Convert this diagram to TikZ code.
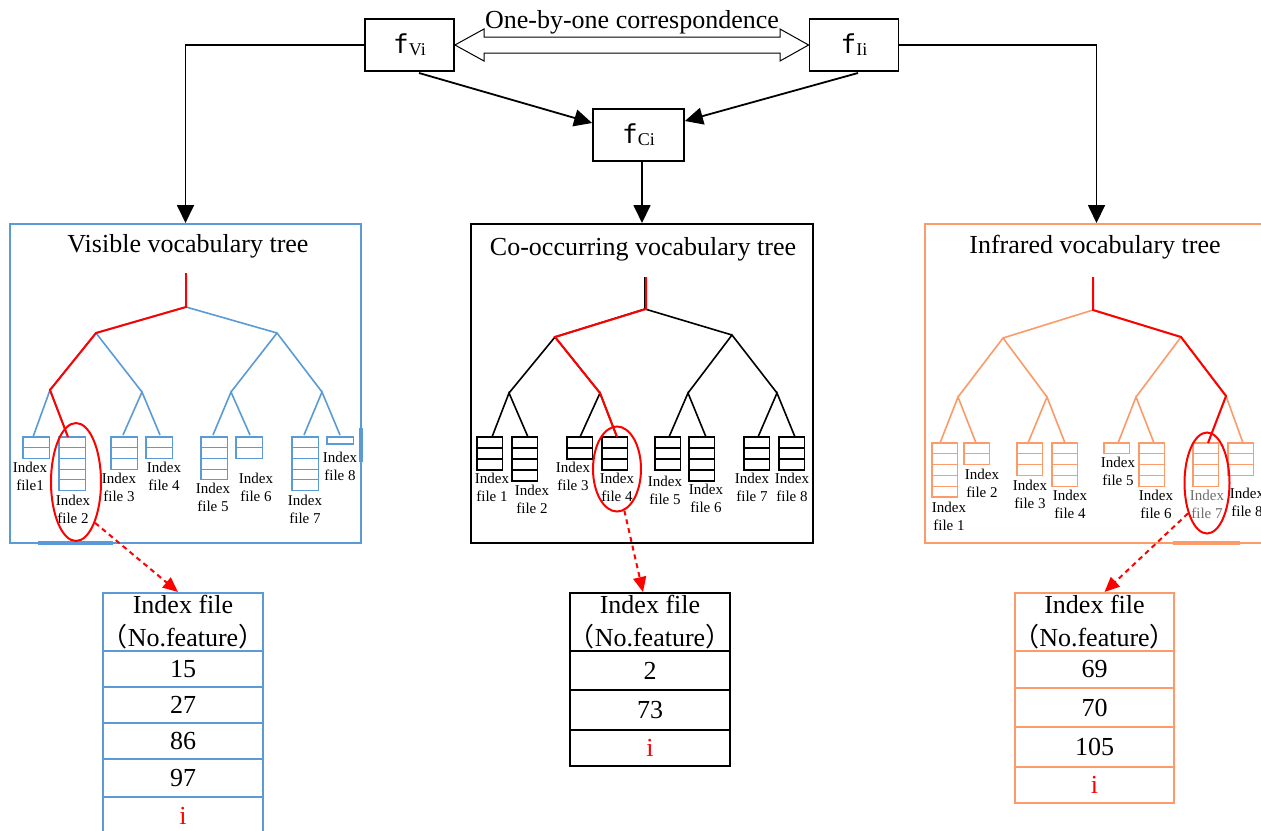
\documentclass[tikz,border=0pt]{standalone}
\usepackage{fontspec}
\setmainfont{Liberation Serif}
\newfontfamily\cjkfont{Noto Sans CJK SC}
\newfontfamily\monof{DejaVu Sans Mono}
\usetikzlibrary{arrows.meta,shapes.geometric}
\definecolor{vblue}{RGB}{91,155,213}
\definecolor{iorange}{RGB}{250,155,105}
\definecolor{greytxt}{RGB}{110,110,110}
\newcommand\leafstack[6]{\foreach \k in {1,...,#4}{\draw[#1,line width=1.2pt] (#2,{#3+(\k-1)*#6}) rectangle ++(#5,#6);}}
\newcommand\fsym[2]{{\monof\fontsize{26}{30}\selectfont #1}\raisebox{-2pt}{\fontsize{18}{20}\selectfont #2}}
\newcommand\headtext{Index file\\\makebox[140pt][c]{{\cjkfont （}No.feature{\cjkfont ）}}}
\tikzset{
  fbox/.style={draw,line width=1.8pt,minimum width=89pt,minimum height=52pt,inner sep=0pt},
  big/.style={font=\fontsize{26}{30}\selectfont,inner sep=0pt},
  lbl/.style={font=\fontsize{15}{18}\selectfont,align=center,inner sep=0pt},
  arr/.style={-{Triangle[length=18pt,width=17pt]},line width=1.8pt},
  darr/.style={red,line width=2pt,dash pattern=on 5pt off 4pt,-{Triangle[length=15pt,width=13pt]}},
  treebox/.style={draw=#1,line width=2pt,minimum height=319pt,inner sep=0pt},
  tcell/.style={draw=#1,line width=2pt,minimum width=160pt,inner sep=0pt,font=\fontsize{26}{30}\selectfont},
  thead/.style={tcell=#1,minimum height=58pt,align=center,font=\fontsize{26}{33}\selectfont},
  redell/.style={draw=red,line width=2pt,ellipse,inner sep=0pt},
  tline/.style={line width=1.6pt},
  rline/.style={red,line width=2pt}
}
\begin{document}
\begin{tikzpicture}[x=1pt,y=-1pt]
\useasboundingbox (0,0) rectangle (1261,830);
\clip (0,0) rectangle (1261,830);
\fill[white] (0,0) rectangle (1261,830);

% ---------- top ----------
\node[fbox] (fV) at (409.5,45) {\fsym{f}{Vi}};
\node[fbox] (fI) at (854,45) {\fsym{f}{Ii}};
\node[fbox,minimum width=91pt] (fC) at (638.5,135) {\fsym{f}{Ci}};
\draw[line width=1pt,fill=white] (fV.east) -- (484,29) -- (484,37) -- (780,37) -- (780,29) -- (fI.west)
  -- (780,61) -- (780,53) -- (484,53) -- (484,61) -- cycle;
\node[big,anchor=base] (corr) at (632,28) {One-by-one correspondence};

% ---------- tree boxes ----------
\node[treebox=vblue,minimum width=351pt] (vbox) at (185.5,383.5) {};
\node[treebox=black,minimum width=342pt] (cbox) at (642,383.5) {};
\node[treebox=iorange,minimum width=343pt] (ibox) at (1096.5,383.5) {};
\draw[vblue,line width=4pt] (38,543) -- (113,543);
\draw[vblue,line width=3.5pt] (361,428) -- (361,462);
\draw[iorange,line width=4pt] (1173,543) -- (1240,543);

\node[big,anchor=base] (vtitle) at (188,252) {Visible vocabulary tree};
\node[big,anchor=base] (ctitle) at (643,255) {Co-occurring vocabulary tree};
\node[big,anchor=base] (ititle) at (1095,253) {Infrared vocabulary tree};

% ---------- main arrows ----------
\draw[arr] (fV.west) -| (vbox.north);
\draw[arr] (fI.east) -| (ibox.north);
\draw[arr] (fC.south -| cbox.north) -- (cbox.north);
\coordinate (dv) at (419,73);
\coordinate (di) at (858,73);
\draw[arr] (dv) -- ([yshift=12pt]fC.west);
\draw[arr] (di) -- ([yshift=14pt]fC.east);

% ---------- visible tree ----------
\begin{scope}[vblue]
\coordinate (vR0) at (186,273); \coordinate (vR) at (186,307);
\coordinate (vA) at (96,333); \coordinate (vB) at (277,333);
\coordinate (vAA) at (50,390); \coordinate (vAB) at (142,392);
\coordinate (vBA) at (231,392); \coordinate (vBB) at (322,392);
\draw[tline] (vR0) -- (vR) (vA) -- (vR) -- (vB)
  (vAA) -- (vA) -- (vAB) (vBA) -- (vB) -- (vBB)
  (33,437) -- (vAA) -- (68,437) (123,435) -- (vAB) -- (160,435)
  (213,435) -- (vBA) -- (250,435) (304,435) -- (vBB) -- (340,435);
\leafstack{vblue}{23}{437}{2}{26.5}{10.7}
\leafstack{vblue}{59}{437}{5}{26.5}{10.7}
\leafstack{vblue}{111}{437}{3}{26.5}{10.7}
\leafstack{vblue}{146}{437}{2}{26.5}{10.7}
\leafstack{vblue}{201}{437}{4}{26.5}{10.7}
\leafstack{vblue}{236}{437}{2}{26.5}{10.7}
\leafstack{vblue}{292}{437}{5}{26.5}{10.7}
\leafstack{vblue}{327}{437}{1}{26.5}{7}
\end{scope}
\draw[rline] (vR0) -- (vR) -- (vA) -- (vAA) -- (68,437);
\node[lbl] (vl1) at (30,476) {Index\\file1};
\node[lbl] (vl2) at (73,509) {Index\\file 2};
\node[lbl] (vl3) at (119,487) {Index\\file 3};
\node[lbl] (vl4) at (164,476) {Index\\file 4};
\node[lbl] (vl5) at (213,497) {Index\\file 5};
\node[lbl] (vl6) at (256,487) {Index\\file 6};
\node[lbl] (vl7) at (305,509) {Index\\file 7};
\node[lbl] (vl8) at (340,466) {Index\\file 8};

% ---------- co-occurring tree ----------
\coordinate (cR0) at (645,277); \coordinate (cR) at (645,309);
\coordinate (cA) at (555,337); \coordinate (cB) at (732,335);
\coordinate (cAA) at (509,393); \coordinate (cAB) at (600,393);
\coordinate (cBA) at (688,393); \coordinate (cBB) at (777,393);
\draw[tline] (cR0) -- (cR) (cA) -- (cR) -- (cB)
  (cAA) -- (cA) -- (cAB) (cBA) -- (cB) -- (cBB)
  (492,437) -- (cAA) -- (528,437) (580,437) -- (cAB) -- (617,437)
  (669,437) -- (cBA) -- (706,437) (758,437) -- (cBB) -- (795,437);
\leafstack{black}{477}{437}{3}{25.5}{11}
\leafstack{black}{512}{437}{4}{25.5}{11}
\leafstack{black}{567}{437}{2}{25.5}{11}
\leafstack{black}{602}{437}{3}{25.5}{11}
\leafstack{black}{655}{437}{3}{25.5}{11}
\leafstack{black}{689}{437}{4}{25.5}{11}
\leafstack{black}{744}{437}{3}{25.5}{11}
\leafstack{black}{779}{437}{3}{25.5}{11}
\draw[rline] ([xshift=1pt]cR0) -- ([xshift=1pt]cR) -- (cA) -- (cAB) -- (617,437);
\node[lbl] (cl1) at (492,487) {Index\\file 1};
\node[lbl] (cl2) at (532,499) {Index\\file 2};
\node[lbl] (cl3) at (573,476) {Index\\file 3};
\node[lbl] (cl4) at (617,487) {Index\\file 4};
\node[lbl] (cl5) at (665,490) {Index\\file 5};
\node[lbl] (cl6) at (706,498) {Index\\file 6};
\node[lbl] (cl7) at (752,487) {Index\\file 7};
\node[lbl] (cl8) at (792,487) {Index\\file 8};

% ---------- infrared tree ----------
\begin{scope}[iorange]
\coordinate (iR0) at (1093,277); \coordinate (iR) at (1093,310);
\coordinate (iA) at (1003,338); \coordinate (iB) at (1181,337);
\coordinate (iAA) at (958,397); \coordinate (iAB) at (1047,397);
\coordinate (iBA) at (1136,397); \coordinate (iBB) at (1226,396);
\draw[tline] (iR0) -- (iR) (iA) -- (iR) -- (iB)
  (iAA) -- (iA) -- (iAB) (iBA) -- (iB) -- (iBB)
  (940,443) -- (iAA) -- (976,443) (1028,443) -- (iAB) -- (1065,443)
  (1118,443) -- (iBA) -- (1154,443) (1208,443) -- (iBB) -- (1243,443);
\leafstack{iorange}{932}{443}{5}{25.5}{10.8}
\leafstack{iorange}{964}{443}{2}{25.5}{10.8}
\leafstack{iorange}{1017}{443}{3}{25.5}{10.8}
\leafstack{iorange}{1052}{443}{4}{25.5}{10.8}
\leafstack{iorange}{1104}{443}{1}{25.5}{10.8}
\leafstack{iorange}{1139}{443}{4}{25.5}{10.8}
\leafstack{iorange}{1193}{443}{4}{25.5}{10.8}
\leafstack{iorange}{1228}{443}{3}{25.5}{10.8}
\end{scope}
\draw[rline] (iR0) -- (iR) -- (iB) -- (iBB) -- (1208,443);
\node[lbl] (il1) at (949,516) {Index\\file 1};
\node[lbl] (il2) at (982,483) {Index\\file 2};
\node[lbl] (il3) at (1030,494) {Index\\file 3};
\node[lbl] (il4) at (1070,504) {Index\\file 4};
\node[lbl] (il5) at (1118,471) {Index\\file 5};
\node[lbl] (il6) at (1156,504) {Index\\file 6};
\node[lbl,text=greytxt] (il7) at (1207,504) {Index\\file 7};
\node[lbl] (il8) at (1247,502) {Index\\file 8};

% ---------- ellipses ----------
\node[redell,minimum width=50pt,minimum height=118pt] (e1) at (76,482) {};
\node[redell,minimum width=48pt,minimum height=85pt] (e2) at (617,469) {};
\node[redell,minimum width=45pt,minimum height=101pt] (e3) at (1207,483) {};

% ---------- tables ----------
\node[thead=vblue] (vt0) at (183,622) {\headtext};
\node[tcell=vblue,minimum height=36pt] (vt1) at (183,669) {15};
\node[tcell=vblue,minimum height=36pt] (vt2) at (183,705) {27};
\node[tcell=vblue,minimum height=36pt] (vt3) at (183,741) {86};
\node[tcell=vblue,minimum height=38pt] (vt4) at (183,778) {97};
\node[tcell=vblue,minimum height=43pt] (vt5) at (183,818.5) {};
\node[big,text=red] (vt5t) at (183,816) {i};

\node[thead=black] (ct0) at (650,622) {\headtext};
\node[tcell=black,minimum height=39pt] (ct1) at (650,670.5) {2};
\node[tcell=black,minimum height=40pt] (ct2) at (650,710) {73};
\node[tcell=black,minimum height=36pt,text=red] (ct3) at (650,748) {i};

\node[thead=iorange,minimum width=159pt] (it0) at (1094.5,622) {\headtext};
\node[tcell=iorange,minimum width=159pt,minimum height=37pt] (it1) at (1094.5,669.5) {69};
\node[tcell=iorange,minimum width=159pt,minimum height=39pt] (it2) at (1094.5,707.5) {70};
\node[tcell=iorange,minimum width=159pt,minimum height=40pt] (it3) at (1094.5,747) {105};
\node[tcell=iorange,minimum width=159pt,minimum height=36pt,text=red] (it4) at (1094.5,785) {i};

% ---------- dashed arrows ----------
\draw[darr] (e1.-65) -- ([xshift=-5pt]vt0.north);
\draw[darr] (e2.-80) -- ([xshift=-7pt]ct0.north);
\draw[darr] (e3.-122) -- ([xshift=10pt]it0.north);
\end{tikzpicture}
\end{document}
